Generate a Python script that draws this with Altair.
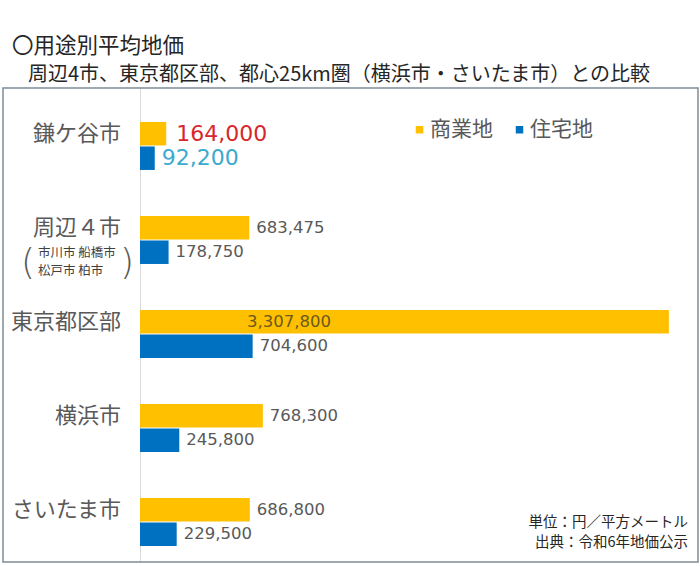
import altair as alt
import pandas as pd

categories = ["鎌ケ谷市", "周辺4市", "東京都区部", "横浜市", "さいたま市"]
cat_labels = ["鎌ケ谷市", "周辺４市", "東京都区部", "横浜市", "さいたま市"]
commercial = [164000, 683475, 3307800, 768300, 686800]
residential = [92200, 178750, 704600, 245800, 229500]
series = ["商業地", "住宅地"]
colors = ["#FFC000", "#0070C0"]
title_main = "〇用途別平均地価"
title_sub = "周辺4市、東京都区部、都心25km圏（横浜市・さいたま市）との比較"
group_note = ["市川市 船橋市", "松戸市 柏市"]
notes = ["単位：円／平方メートル", "出典：令和6年地価公示"]

JP = "Noto Sans CJK JP"
NUM = "DejaVu Sans"
GRAY = "#595959"

rows = []
for c, a, b in zip(categories, commercial, residential):
    rows.append({"cat": c, "type": series[0], "v": a})
    rows.append({"cat": c, "type": series[1], "v": b})
df = pd.DataFrame(rows)
cat_df = pd.DataFrame({"cat": categories, "label": cat_labels})

W, H = 558, 474

y_enc = alt.Y(
    "cat:N",
    sort=categories,
    scale=alt.Scale(domain=categories, paddingInner=0.49, paddingOuter=0.266, align=0.68),
    axis=alt.Axis(labels=False, ticks=False, title=None, domainColor="#D9D9D9", domainWidth=1, grid=False),
)
yoff = alt.YOffset("type:N", sort=series, scale=alt.Scale(domain=series, paddingInner=0.04, paddingOuter=0))
x_enc = alt.X("v:Q", scale=alt.Scale(domain=[0, 3490000]), axis=None)

base = alt.Chart(df)

bars = base.mark_bar(cornerRadius=0).encode(
    x=x_enc,
    y=y_enc,
    yOffset=yoff,
    color=alt.Color(
        "type:N",
        sort=series,
        scale=alt.Scale(domain=series, range=colors),
        legend=alt.Legend(
            title=None, orient="none", legendX=269, legendY=31, direction="horizontal",
            symbolType="square", symbolSize=56, symbolStrokeWidth=0,
            labelFontSize=21, labelFont=JP, labelColor=GRAY, labelOffset=0,
            columnPadding=16, padding=0,
        ),
    ),
)

normal_labels = base.transform_filter(
    (alt.datum.cat != categories[0]) & ~((alt.datum.cat == categories[2]) & (alt.datum.type == series[0]))
).mark_text(align="left", baseline="middle", dx=7, fontSize=16.5, font=NUM, color=GRAY).encode(
    x=x_enc, y=y_enc, yOffset=yoff, text=alt.Text("v:Q", format=",")
)

big_inside = base.transform_filter(
    (alt.datum.cat == categories[2]) & (alt.datum.type == series[0])
).mark_text(align="left", baseline="middle", fontSize=16.5, font=NUM, color="#6B5A1E").encode(
    x=alt.value(107), y=y_enc, yOffset=yoff, text=alt.Text("v:Q", format=",")
)

kama_c = base.transform_filter(
    (alt.datum.cat == categories[0]) & (alt.datum.type == series[0])
).mark_text(align="left", baseline="middle", dx=10, fontSize=22, font=NUM, color="#D7262D").encode(
    x=x_enc, y=y_enc, yOffset=yoff, text=alt.Text("v:Q", format=",")
)
kama_r = base.transform_filter(
    (alt.datum.cat == categories[0]) & (alt.datum.type == series[1])
).mark_text(align="left", baseline="middle", dx=7, fontSize=22, font=NUM, color="#3AAAD0").encode(
    x=x_enc, y=y_enc, yOffset=yoff, text=alt.Text("v:Q", format=",")
)

cat_text = alt.Chart(cat_df).mark_text(
    align="right", baseline="middle", dy=-12, fontSize=22, font=JP, color=GRAY
).encode(x=alt.value(-19), y=y_enc, text="label:N")

note_df = pd.DataFrame({"cat": [categories[1]] * 2, "t": group_note, "line": [0, 1]})
note1 = alt.Chart(note_df).transform_filter(alt.datum.line == 0).mark_text(
    align="left", baseline="middle", dy=13, fontSize=12.5, font=JP, color="#404040"
).encode(x=alt.value(-102), y=y_enc, text="t:N")
note2 = alt.Chart(note_df).transform_filter(alt.datum.line == 1).mark_text(
    align="left", baseline="middle", dy=31, fontSize=12.5, font=JP, color="#404040"
).encode(x=alt.value(-102), y=y_enc, text="t:N")

paren_df = pd.DataFrame({"cat": [categories[1]] * 2, "p": ["(", ")"]})
paren_l = alt.Chart(paren_df).transform_filter(alt.datum.p == "(").mark_text(
    align="center", baseline="middle", dy=23, fontSize=36, font=NUM, fontWeight=200, color=GRAY
).encode(x=alt.value(-112), y=y_enc, text="p:N")
paren_r = alt.Chart(paren_df).transform_filter(alt.datum.p == ")").mark_text(
    align="center", baseline="middle", dy=23, fontSize=36, font=NUM, fontWeight=200, color=GRAY
).encode(x=alt.value(-13), y=y_enc, text="p:N")

one = pd.DataFrame({"k": [0]})
frame = alt.Chart(one).mark_rect(fillOpacity=0, stroke="#7F8C96", strokeWidth=1.5).encode(
    x=alt.value(-137), x2=alt.value(W), y=alt.value(0), y2=alt.value(H)
)

t1 = alt.Chart(pd.DataFrame({"t": [title_main]})).mark_text(
    align="left", baseline="middle", fontSize=21.5, font=JP, color="#262626"
).encode(x=alt.value(-128), y=alt.value(-41), text="t:N")
t2 = alt.Chart(pd.DataFrame({"t": [title_sub]})).mark_text(
    align="left", baseline="middle", fontSize=20, font=JP, color="#262626"
).encode(x=alt.value(-112), y=alt.value(-13), text="t:N")

n1 = alt.Chart(pd.DataFrame({"t": [notes[0]]})).mark_text(
    align="right", baseline="middle", fontSize=14.5, font=JP, color="#262626"
).encode(x=alt.value(548), y=alt.value(435), text="t:N")
n2 = alt.Chart(pd.DataFrame({"t": [notes[1]]})).mark_text(
    align="right", baseline="middle", fontSize=14.5, font=JP, color="#262626"
).encode(x=alt.value(548), y=alt.value(455), text="t:N")

chart = alt.layer(
    frame, bars, normal_labels, big_inside, kama_c, kama_r, cat_text,
    note1, note2, paren_l, paren_r, t1, t2, n1, n2
).properties(
    width=W, height=H,
    autosize=alt.AutoSizeParams(type="none"),
    padding={"left": 140, "top": 88, "right": 2, "bottom": 4},
    background="white",
).configure_view(stroke=None)

chart.save("out.html", embed_options={"renderer": "svg", "actions": False})
